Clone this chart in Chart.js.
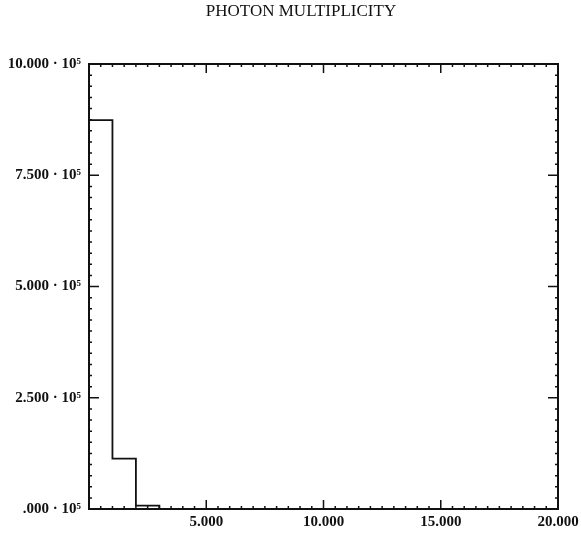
<!doctype html>
<html>
<head>
<meta charset="utf-8">
<title>Photon multiplicity</title>
<style>
  body { margin: 0; background: #fff; }
  #wrap { width: 581px; height: 534px; }
</style>
</head>
<body>
<div id="wrap"><canvas id="c" width="581" height="534"></canvas></div>
<script src="https://cdn.jsdelivr.net/npm/chart.js"></script>
<script>
// histogram bins (left edges) and counts
const binEdges = [0, 1, 2, 3, 4, 5, 6, 7, 8, 9, 10, 11, 12, 13, 14, 15, 16, 17, 18, 19, 20];
const counts   = [874000, 113000, 7700, 0, 0, 0, 0, 0, 0, 0, 0, 0, 0, 0, 0, 0, 0, 0, 0, 0, 0];

// tick labels as printed on the plot
const yTickValues = [0, 250000, 500000, 750000, 1000000];
const yTickLabels = [".000 · 10⁵", "2.500 · 10⁵", "5.000 · 10⁵", "7.500 · 10⁵", "10.000 · 10⁵"];
const xTickValues = [0, 5, 10, 15, 20];
const xTickLabels = ["", "5.000", "10.000", "15.000", "20.000"];

const titleText = "PHOTON MULTIPLICITY";
const serif = "'Liberation Serif', 'DejaVu Serif', serif";

// frame + inward ticks on all four sides, old-plotter style
const framePlugin = {
  id: "frame",
  afterDatasetsDraw(chart) {
    const { ctx, chartArea: a, scales } = chart;
    const xs = scales.x, ys = scales.y;
    ctx.save();
    ctx.strokeStyle = "#111";
    ctx.lineWidth = 2;
    ctx.strokeRect(a.left, a.top, a.right - a.left, a.bottom - a.top);

    ctx.lineWidth = 1.5;
    ctx.beginPath();
    for (let v = 0; v <= 20.001; v += 0.5) {
      const px = xs.getPixelForValue(v);
      const len = (Math.abs(v % 5) < 0.01) ? 9 : 3;
      ctx.moveTo(px, a.bottom); ctx.lineTo(px, a.bottom - len);
      ctx.moveTo(px, a.top);    ctx.lineTo(px, a.top + len);
    }
    for (let v = 0; v <= 1000001; v += 25000) {
      const py = ys.getPixelForValue(v);
      const len = (v % 250000 === 0) ? 10 : 3;
      ctx.moveTo(a.left, py);  ctx.lineTo(a.left + len, py);
      ctx.moveTo(a.right, py); ctx.lineTo(a.right - len, py);
    }
    ctx.stroke();

    // title
    ctx.fillStyle = "#111";
    ctx.font = "17px " + serif;
    ctx.textAlign = "center";
    ctx.textBaseline = "middle";
    ctx.fillText(titleText, 301, 12);
    ctx.restore();
  }
};

new Chart(document.getElementById("c"), {
  type: "line",
  data: {
    datasets: [{
      data: binEdges.map((x, i) => ({ x: x, y: counts[i] })),
      stepped: true,
      borderColor: "#111",
      borderWidth: 1.8,
      pointRadius: 0,
      fill: false
    }]
  },
  options: {
    responsive: false,
    animation: false,
    layout: { padding: { top: 64, right: 23, left: 0, bottom: 0 } },
    plugins: { legend: { display: false }, title: { display: false }, tooltip: { enabled: false } },
    scales: {
      x: {
        type: "linear",
        min: 0, max: 20,
        afterBuildTicks: s => { s.ticks = xTickValues.map(v => ({ value: v })); },
        afterFit: s => { s.height = 25; s.paddingLeft = 0; s.paddingRight = 0; },
        grid: { display: false, drawTicks: false },
        border: { display: false },
        ticks: {
          maxRotation: 0,
          autoSkip: false,
          padding: 4,
          color: "#111",
          font: { family: serif, size: 15, weight: "bold" },
          callback: v => xTickLabels[xTickValues.indexOf(v)]
        }
      },
      y: {
        type: "linear",
        min: 0, max: 1000000,
        afterBuildTicks: s => { s.ticks = yTickValues.map(v => ({ value: v })); },
        afterFit: s => { s.width = 89; },
        grid: { display: false, drawTicks: false },
        border: { display: false },
        ticks: {
          autoSkip: false,
          padding: 8,
          color: "#111",
          font: { family: serif, size: 15, weight: "bold" },
          callback: v => yTickLabels[yTickValues.indexOf(v)]
        }
      }
    }
  },
  plugins: [framePlugin]
});
</script>
</body>
</html>
